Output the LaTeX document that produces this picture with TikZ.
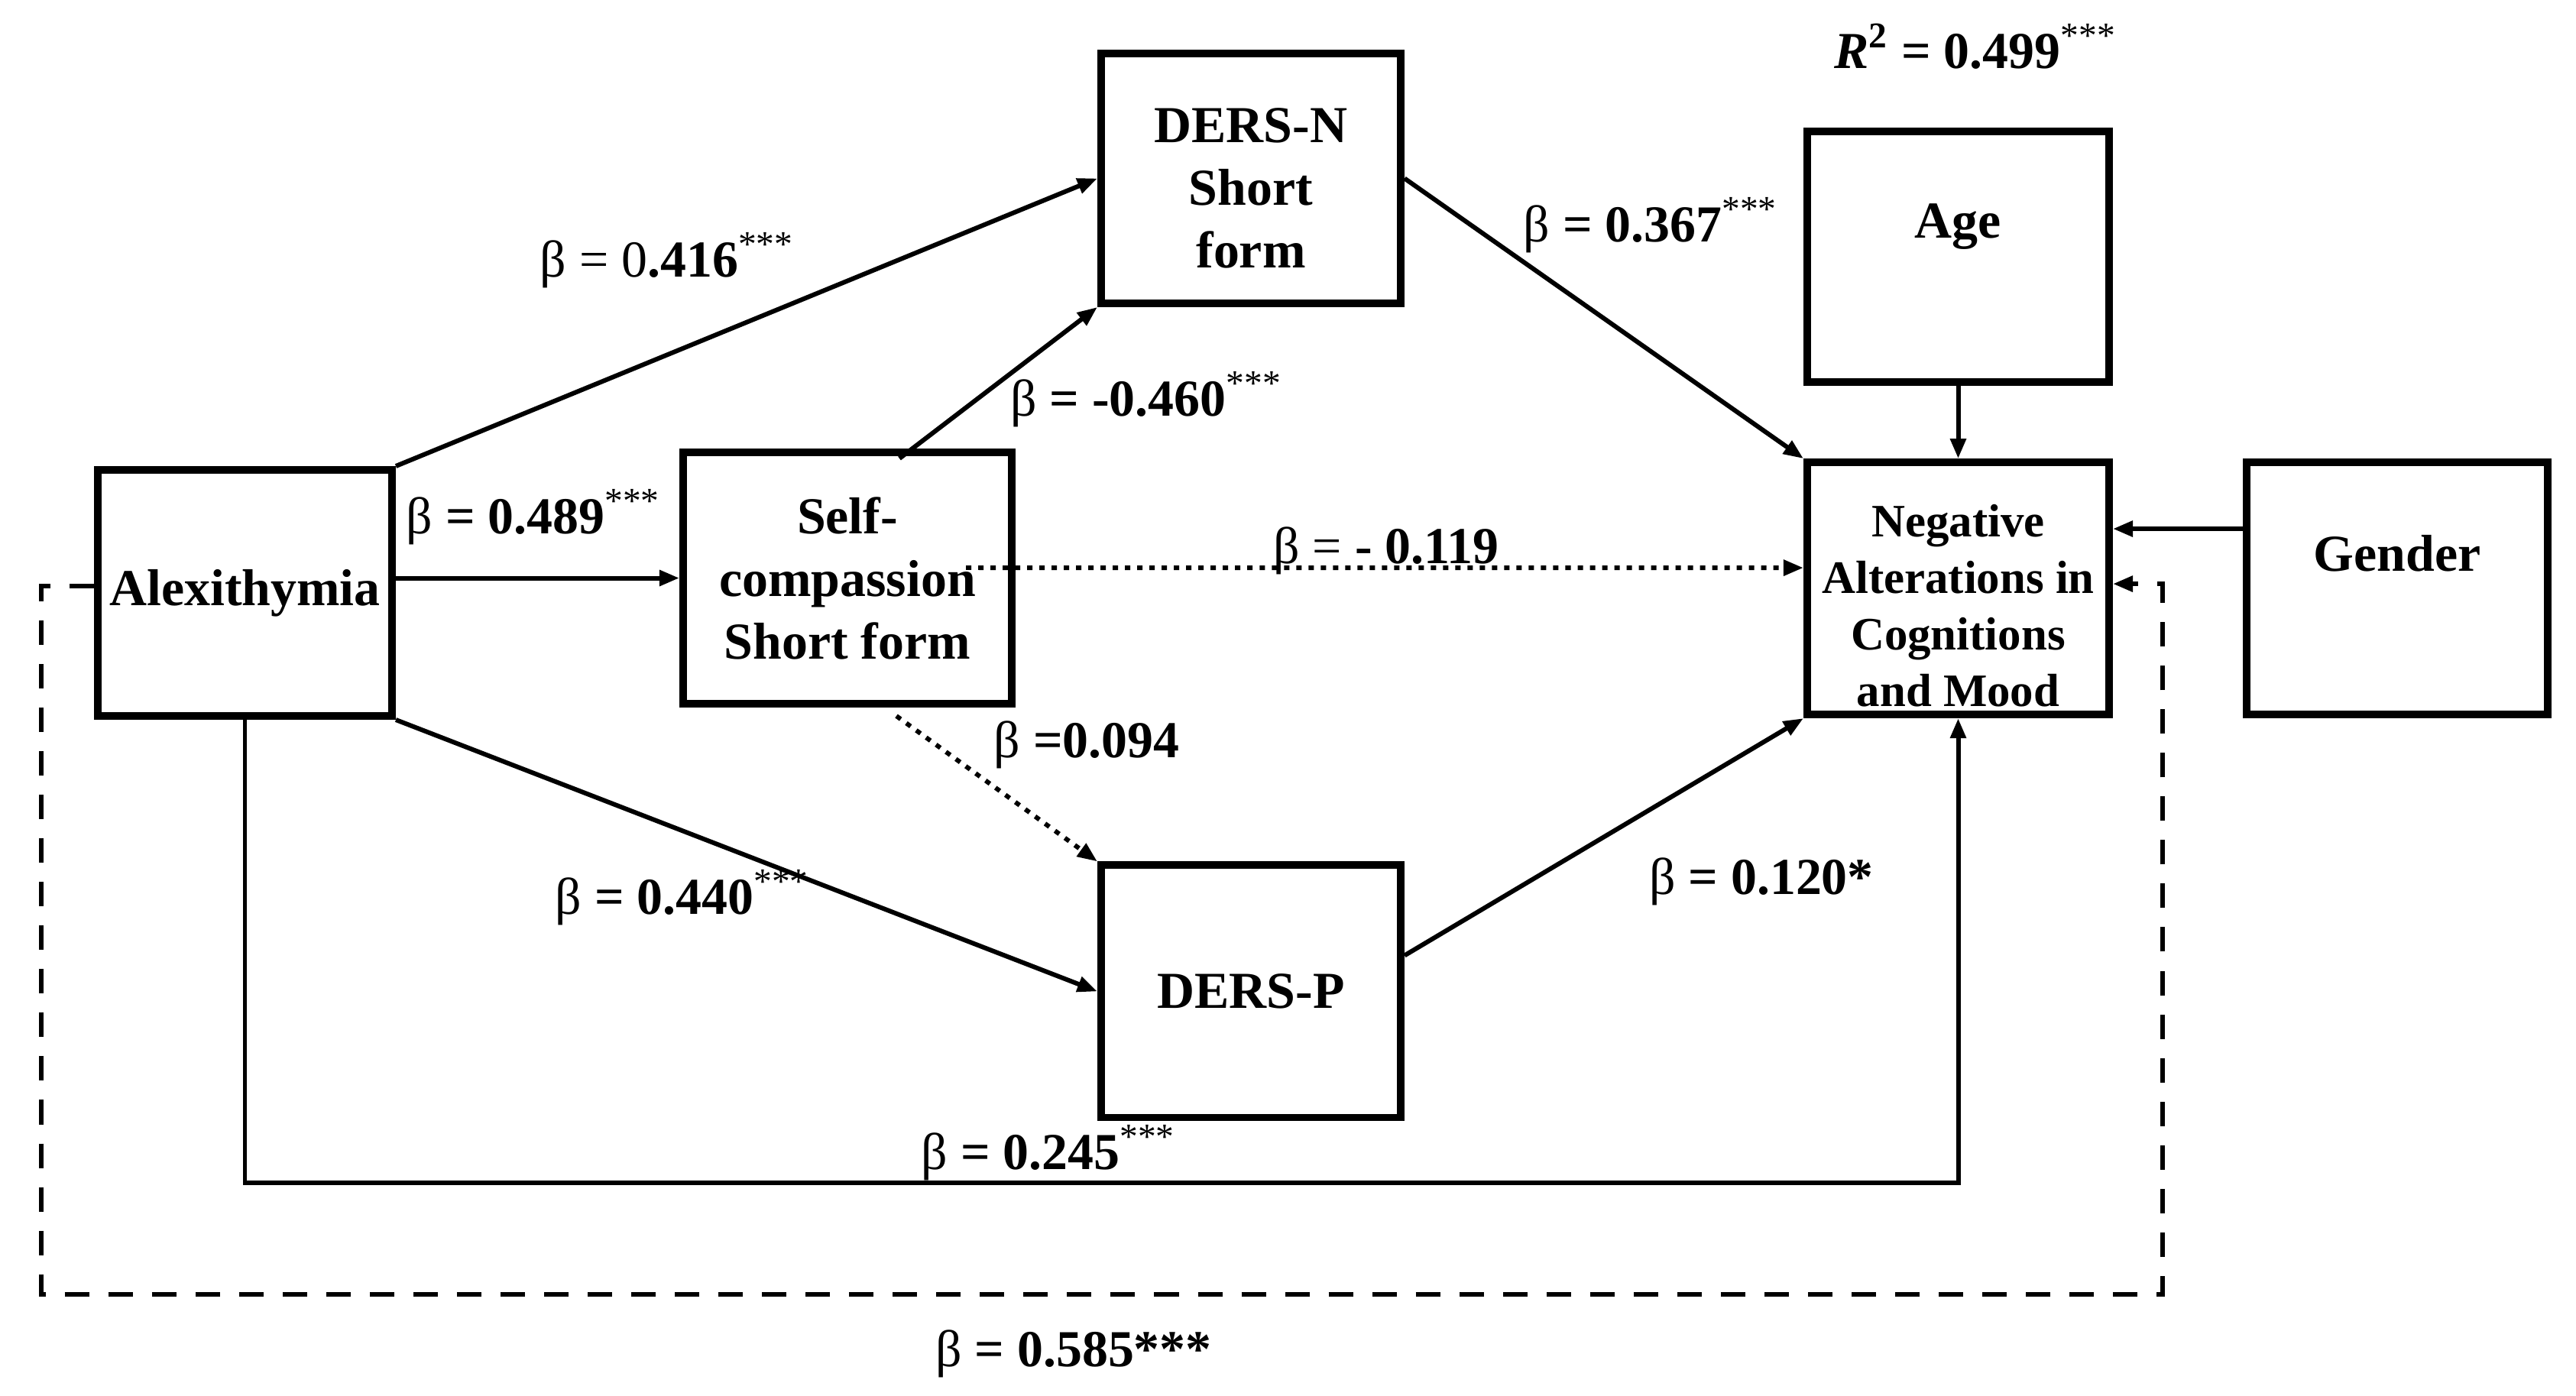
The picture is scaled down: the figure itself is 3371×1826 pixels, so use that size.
\documentclass[tikz,border=0pt]{standalone}
\usepackage{fontspec}
\setmainfont{Liberation Serif}
\usetikzlibrary{positioning,arrows.meta}

\begin{document}
\begin{tikzpicture}[x=0.01cm, y=-0.01cm, >={Triangle[length=0.26cm,width=0.2cm]},
	varbox/.style={rectangle, draw, line width=2.8pt, inner sep=0pt, align=center,
		font=\fontsize{19.3}{23.3}\selectfont\bfseries, minimum width=3.92cm, minimum height=3.3cm},
	coef/.style={anchor=base, inner sep=0pt, font=\fontsize{19.3}{23.3}\selectfont},
	conn/.style={->, line width=1.7pt},
	dotconn/.style={conn, dash pattern=on 0.07cm off 0.09cm},
	dashconn/.style={conn, dash pattern=on 0.32cm off 0.25cm}]
	\useasboundingbox (0,0) rectangle (3371,1826);

	% variables
	\node[varbox, minimum width=3.85cm, minimum height=3.22cm] (alex) at (320.5,776) {Alexithymia};
	\node[varbox, minimum width=4.3cm, minimum height=3.29cm] (selfc) at (1109,756.5) {Self-\\compassion\\Short form};
	\node[varbox, minimum height=3.27cm, text height=2.33cm, text depth=0pt] (dersn) at (1637,233.5) {DERS-N\\Short\\form};
	\node[varbox] (dersp) [below=7.25cm of dersn] {DERS-P};
	\node[varbox, minimum width=3.95cm, minimum height=3.28cm, text depth=0.93cm] (age) at (2562.5,336) {Age};
	\node[varbox, minimum width=3.95cm, text height=3.08cm, text depth=0pt,
		font=\fontsize{17.3}{21}\selectfont\bfseries] (nacm) [below=0.95cm of age] {Negative\\Alterations in\\Cognitions\\and Mood};
	\node[varbox, minimum width=3.94cm, text depth=0.93cm] (gender) [right=1.7cm of nacm] {Gender};

	% paths
	\path[conn] (alex.north east) edge (dersn.west)
	(alex.east |- selfc.west) edge (selfc.west)
	(alex.south east) edge (dersp.west)
	([xshift=0.68cm,yshift=-0.13cm]selfc.north) edge (dersn.south west)
	(dersn.east) edge (nacm.north west)
	([yshift=0.47cm]dersp.east) edge (nacm.south west)
	(age) edge (nacm)
	([yshift=0.78cm]gender.west) edge ([yshift=0.78cm]nacm.east);
	\draw[dotconn] ([xshift=-0.65cm,yshift=0.135cm]selfc.east) -- ([yshift=0.27cm]nacm.west);
	\draw[dotconn] ([xshift=0.64cm,yshift=-0.11cm]selfc.south) -- (dersp.north west);

	\coordinate (low) at (0,1548);
	\draw[conn] (alex.south) -- (alex.south |- low) -| (nacm.south);

	\coordinate (dl) at (54,1694);
	\coordinate (dr) at (2830,1694);
	\coordinate (nin) at ([yshift=0.06cm]nacm.east);
	\draw[dashconn] ([yshift=0.09cm]alex.west) -| (dl) -| (nin -| dr) -- (nin);

	% coefficients
	\node[coef] (b416) at (873,362) {β = 0\textbf{.416}\textsuperscript{***}};
	\node[coef] (b489) at (698,698) {β \textbf{= 0.489}\textsuperscript{***}};
	\node[coef] (b460) at (1500,544) {β \textbf{= -0.460}\textsuperscript{***}};
	\node[coef] (b367) at (2160,316) {β \textbf{= 0.367}\textsuperscript{***}};
	\node[coef] (b119) at (1814,737) {β = \textbf{- 0.119}};
	\node[coef] (b094) at (1422,991) {β \textbf{=0.094}};
	\node[coef] (b440) at (893,1196) {β \textbf{= 0.440}\textsuperscript{***}};
	\node[coef] (b120) at (2305,1170) {β \textbf{= 0.120*}};
	\node[coef] (b245) at (1372,1530) {β \textbf{= 0.245}\textsuperscript{***}};
	\node[coef] (b585) at (1405,1788) {β \textbf{= 0.585***}};
	\node[coef] (rsq) at (2585,89) {\textbf{\textit{R}\textsuperscript{2} = 0.499}\textsuperscript{***}};
\end{tikzpicture}
\end{document}
